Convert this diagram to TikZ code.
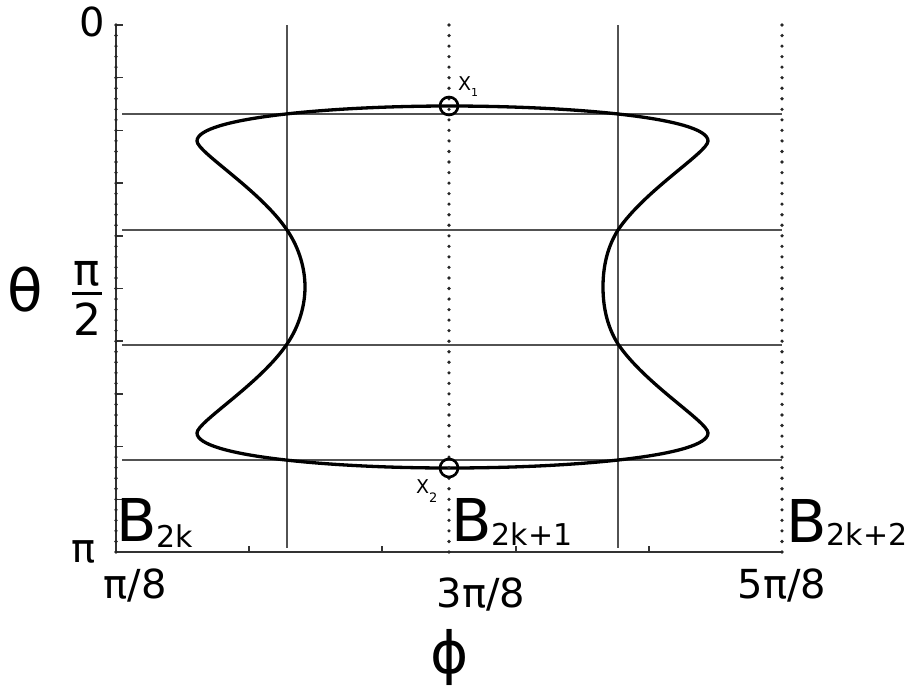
\documentclass[tikz,border=0pt]{standalone}
\usepackage{fontspec}
\setmainfont{DejaVu Sans}
\begin{document}
\begin{tikzpicture}[x=1pt,y=-1pt,
  gridline/.style={draw=black!68, line width=1.4pt},
  axisline/.style={draw=black!80, line width=1.5pt},
  dotline/.style={draw=black!85, line width=3.6pt, line cap=round, dash pattern=on 0pt off 10.54pt},
  curveline/.style={draw=black, line width=3.3pt, line join=round},
  ring/.style={circle, draw=black, line width=2.6pt, minimum size=18pt, inner sep=0pt},
  lab/.style={inner sep=0pt, font=\fontsize{40}{40}\selectfont},
  biglab/.style={inner sep=0pt, font=\fontsize{58}{58}\selectfont},
  blab/.style={inner sep=0pt, anchor=base west, font=\fontsize{59}{59}\selectfont},
  xlab/.style={inner sep=0pt, anchor=base west, font=\fontsize{19}{19}\selectfont}
]
\useasboundingbox (0,0) rectangle (915,689);

% grid
\foreach \x in {287,618} \draw[gridline] (\x,25) -- (\x,548);
\foreach \y in {114,230,345,460} \draw[gridline] (122,\y) -- (782,\y);

% axes
\draw[axisline] (116,25) -- (116,552) -- (782,552);
\foreach \k in {0,...,10} \draw[axisline] (116,{25+52.7*\k}) -- (123,{25+52.7*\k});
\foreach \x in {249,382,516,649} \draw[axisline] (\x,552) -- (\x,546);

% curve
\draw[curveline] (449,106) .. controls (330,106) and (197,118) .. (197,141)
  .. controls (197,152) and (260,190) .. (287,230)
  .. controls (300,249) and (305,270) .. (305,287)
  .. controls (305,304) and (300,325) .. (287,344)
  .. controls (260,384) and (197,422) .. (197,433)
  .. controls (197,456) and (330,468) .. (449,468)
  .. controls (575,468) and (708,456) .. (708,433)
  .. controls (708,422) and (645,384) .. (618,344)
  .. controls (606,325) and (603,304) .. (603,287)
  .. controls (603,270) and (606,249) .. (618,230)
  .. controls (645,190) and (708,152) .. (708,141)
  .. controls (708,118) and (575,106) .. (449,106) -- cycle;

% dotted verticals
\foreach \x in {116,449,782} \draw[dotline] (\x,25) -- (\x,552);

% marked points
\node[ring] (x1) at (449,106) {};
\node[ring] (x2) at (449,468) {};
\node[xlab] (x1lab) at (458,90) {X\raisebox{-6pt}{\fontsize{11}{11}\selectfont 1}};
\node[xlab] (x2lab) at (416,493) {X\raisebox{-9pt}{\fontsize{13}{13}\selectfont 2}};

% axis labels
\node[lab] (zero) at (92,22) {0};
\node[lab, anchor=base] (piend) at (84,562) {π};
\node[lab, anchor=base] (pi8) at (135,598) {π/8};
\node[lab, anchor=base] (pi38) at (481,607) {3π/8};
\node[lab, anchor=base] (pi58) at (782,598) {5π/8};
\node[biglab] (theta) at (25,290) {θ};
\node[biglab] (phi) at (450,657) {ϕ};
\node[inner sep=0pt, anchor=base, font=\fontsize{44}{44}\selectfont] (halfnum) at (87,285) {π};
\node[inner sep=0pt, anchor=base, font=\fontsize{44}{44}\selectfont] (halfden) at (87,335) {2};
\draw[line width=3pt] (72,293) -- (102,293);

% region labels
\node[blab] (b0) at (116,541) {B\raisebox{-6pt}{\fontsize{30}{30}\selectfont 2k}};
\node[blab] (b1) at (451,541) {B\raisebox{-4pt}{\fontsize{30}{30}\selectfont 2k+1}};
\node[blab] (b2) at (786,542) {B\raisebox{-3pt}{\fontsize{30}{30}\selectfont 2k+2}};
\end{tikzpicture}
\end{document}
